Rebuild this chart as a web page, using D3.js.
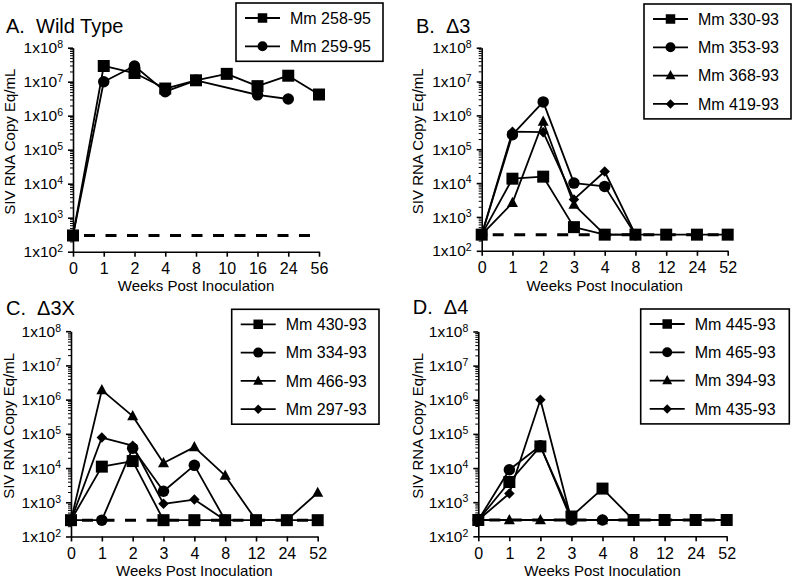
<!DOCTYPE html>
<html><head><meta charset="utf-8">
<script src="https://cdn.jsdelivr.net/npm/d3@7"></script>
<style>
body{margin:0;background:#fff}
svg{display:block;font-family:"Liberation Sans",Arial,Helvetica,sans-serif}
</style>
</head><body>
<svg id="chart" width="800" height="581"></svg>
<script>
// ---- categories / tick labels ----
const weeksA = ["0","1","2","4","8","10","16","24","56"];
const weeksBCD = ["0","1","2","3","4","8","12","24","52"];
const yTickExponents = [2,3,4,5,6,7,8];
const detectionLimit = 300;

// ---- panel titles ----
const panelTitles = ["A.  Wild Type", "B.  \u03943", "C.  \u03943X", "D.  \u03944"];
const yTitle = "SIV RNA Copy Eq/mL";
const xTitle = "Weeks Post Inoculation";

// ---- series names ----
const namesA = ["Mm 258-95","Mm 259-95"];
const namesB = ["Mm 330-93","Mm 353-93","Mm 368-93","Mm 419-93"];
const namesC = ["Mm 430-93","Mm 334-93","Mm 466-93","Mm 297-93"];
const namesD = ["Mm 445-93","Mm 465-93","Mm 394-93","Mm 435-93"];
const shapes = ["square","circle","triangle","diamond"];

// ---- values (null = no measurement) ----
const a258 = [300, 2.9e7, 1.8e7, 6.3e6, 1.1e7, 1.7e7, 7.4e6, 1.5e7, 4.2e6];
const a259 = [300, 1.0e7, 2.9e7, 5.1e6, 1.1e7, null, 4.1e6, 3.1e6, null];

const b330 = [300, 1.35e4, 1.55e4, 500, 300, 300, 300, 300, 300];
const b353 = [300, 2.7e5, 2.5e6, 1.0e4, 8.0e3, 300, null, null, null];
const b368 = [300, 2.6e3, 6.6e5, 2.3e3, 300, 300, null, null, null];
const b419 = [300, 3.3e5, 3.2e5, 3.3e3, 2.2e4, 300, null, null, null];

const c430 = [300, 1.1e4, 1.6e4, 300, 300, 300, 300, 300, 300];
const c334 = [300, 300, 3.8e4, 2.1e3, 1.2e4, 300, null, null, null];
const c466 = [300, 1.9e6, 3.3e5, 1.4e4, 4.1e4, 6.0e3, 300, 300, 1.9e3];
const c297 = [300, 7.8e4, 4.5e4, 900, 1.2e3, 300, null, null, null];

const d445 = [300, 3.9e3, 4.3e4, 380, 2.5e3, 300, 300, 300, 300];
const d465 = [300, 8.9e3, 4.5e4, 300, 300, 300, null, null, null];
const d394 = [300, 300, 300, 300, 300, 300, null, null, null];
const d435 = [300, 1.8e3, 1.0e6, 300, 300, 300, null, null, null];

const panels = [
  {title: panelTitles[0], weeks: weeksA, names: namesA, series: [a258, a259]},
  {title: panelTitles[1], weeks: weeksBCD, names: namesB, series: [b330, b353, b368, b419]},
  {title: panelTitles[2], weeks: weeksBCD, names: namesC, series: [c430, c334, c466, c297]},
  {title: panelTitles[3], weeks: weeksBCD, names: namesD, series: [d445, d465, d394, d435]}
];

// ---- layout (positions, not data) ----
const layouts = [
  {x0:73,   x1:319,   yTop:47.7,  yBot:251.7, leg:[236,3,147],   tX:6,     tY:33,  yLabX:10,    xLabY:290.5},
  {x0:481.7,x1:727.7, yTop:47.7,  yBot:250.8, leg:[644,4,147],   tX:416,   tY:33,  yLabX:418,   xLabY:290.5},
  {x0:71,   x1:317.7, yTop:331.2, yBot:536.5, leg:[231.7,309.3,147.3], tX:6, tY:315, yLabX:9,   xLabY:575.5},
  {x0:478.3,x1:726.7, yTop:331.5, yBot:536.3, leg:[640.7,309,148.6],   tX:412.7, tY:314, yLabX:417.5, xLabY:575.5}
];

function markerPath(shape, s){
  const h = s/2;
  switch(shape){
    case "square": return `M${-h},${-h}H${h}V${h}H${-h}Z`;
    case "circle": return `M${h},0A${h},${h} 0 1,1 ${-h},0A${h},${h} 0 1,1 ${h},0Z`;
    case "triangle": return `M0,${-h*1.1}L${h},${h*0.75}L${-h},${h*0.75}Z`;
    case "diamond": return `M0,${-h}L${h},0L0,${h}L${-h},0Z`;
  }
}
const plotSize = {square:12, circle:11.5, triangle:11, diamond:10.5};
const legSize = {square:9.5, circle:10, triangle:10, diamond:9.5};

const svg = d3.select("#chart");
svg.append("rect").attr("width",800).attr("height",581).attr("fill","#fff");

const majorVals = yTickExponents.map(e => Math.pow(10,e));
const minorVals = [];
yTickExponents.slice(0,-1).forEach(e => { for(let k=2;k<=9;k++) minorVals.push(k*Math.pow(10,e)); });

panels.forEach((p,i) => {
  const L = layouts[i];
  const g = svg.append("g");
  const x = d3.scalePoint().domain(p.weeks).range([L.x0, L.x1]).padding(0);
  const y = d3.scaleLog().domain([1e2,1e8]).range([L.yBot, L.yTop]);

  // minor y ticks
  const gMinor = g.append("g").attr("transform",`translate(${L.x0},0)`)
    .call(d3.axisLeft(y).tickValues(minorVals).tickSize(3).tickFormat(""));
  gMinor.select(".domain").remove();
  gMinor.selectAll("line").attr("stroke","#000").attr("stroke-width",1);

  // major y ticks + axis line
  const gY = g.append("g").attr("transform",`translate(${L.x0},0)`)
    .call(d3.axisLeft(y).tickValues(majorVals).tickSize(5).tickSizeOuter(0).tickFormat(""));
  gY.select(".domain").attr("stroke","#000").attr("stroke-width",1.6);
  gY.selectAll("line").attr("stroke","#000").attr("stroke-width",1.6);

  // y tick labels 1x10^n
  yTickExponents.forEach(e => {
    const t = g.append("text")
      .attr("x", L.x0 - 10).attr("y", y(Math.pow(10,e)))
      .attr("dy","0.36em").attr("text-anchor","end")
      .attr("font-size",15.5).attr("fill","#000");
    t.append("tspan").text("1x10");
    t.append("tspan").attr("dy","-0.5em").attr("font-size",10.5).text(String(e));
  });

  // x axis
  const gX = g.append("g").attr("transform",`translate(0,${L.yBot})`)
    .call(d3.axisBottom(x).tickSize(5).tickSizeOuter(0).tickPadding(6));
  gX.select(".domain").attr("stroke","#000").attr("stroke-width",1.6);
  gX.selectAll("line").attr("stroke","#000").attr("stroke-width",1.6);
  gX.selectAll("text").attr("font-size",16).attr("fill","#000")
    .attr("font-family",'"Liberation Sans",Arial,sans-serif');

  // titles
  g.append("text").attr("x",L.tX).attr("y",L.tY).attr("font-size",20)
    .style("white-space","pre").attr("fill","#000").text(p.title);
  const yc = (L.yTop + L.yBot)/2 - 8;
  g.append("text").attr("transform",`translate(${L.yLabX},${yc}) rotate(-90)`)
    .attr("text-anchor","middle").attr("dy","0.35em").attr("font-size",15).attr("fill","#000").text(yTitle);
  g.append("text").attr("x",(L.x0+L.x1)/2).attr("y",L.xLabY)
    .attr("text-anchor","middle").attr("font-size",15).attr("fill","#000").text(xTitle);

  // detection-limit dashed line
  g.append("line").attr("x1",L.x0+11).attr("x2",L.x1)
    .attr("y1",y(detectionLimit)).attr("y2",y(detectionLimit))
    .attr("stroke","#000").attr("stroke-width",3).attr("stroke-dasharray","11,10.5");

  // series (draw last series first so squares on top)
  const line = d3.line().x(d => x(d.w)).y(d => y(d.v));
  for (let s = p.series.length-1; s >= 0; s--) {
    const pts = p.weeks.map((w,k) => ({w, v:p.series[s][k]})).filter(d => d.v != null);
    g.append("path").datum(pts).attr("d",line)
      .attr("fill","none").attr("stroke","#000").attr("stroke-width",1.8).attr("stroke-linejoin","round");
    g.selectAll(null).data(pts).enter().append("path")
      .attr("transform", d => `translate(${x(d.w)},${y(d.v)})`)
      .attr("d", markerPath(shapes[s], plotSize[shapes[s]]))
      .attr("fill","#000");
  }

  // legend
  const [lx, ly, lw] = L.leg;
  const n = p.names.length;
  const rowH = 28.3;
  const lh = 15 + (n-1)*rowH + 15;
  const lg = g.append("g");
  lg.append("rect").attr("x",lx).attr("y",ly).attr("width",lw).attr("height",lh)
    .attr("fill","#fff").attr("stroke","#000").attr("stroke-width",1.6);
  p.names.forEach((nm,k) => {
    const yy = ly + 15 + k*rowH;
    lg.append("line").attr("x1",lx+9).attr("x2",lx+44).attr("y1",yy).attr("y2",yy)
      .attr("stroke","#000").attr("stroke-width",1.8);
    lg.append("path").attr("transform",`translate(${lx+26.5},${yy})`)
      .attr("d", markerPath(shapes[k], legSize[shapes[k]])).attr("fill","#000");
    lg.append("text").attr("x",lx+54).attr("y",yy).attr("dy","0.36em")
      .attr("font-size",16).attr("fill","#000").text(nm);
  });
});
</script>
</body></html>
